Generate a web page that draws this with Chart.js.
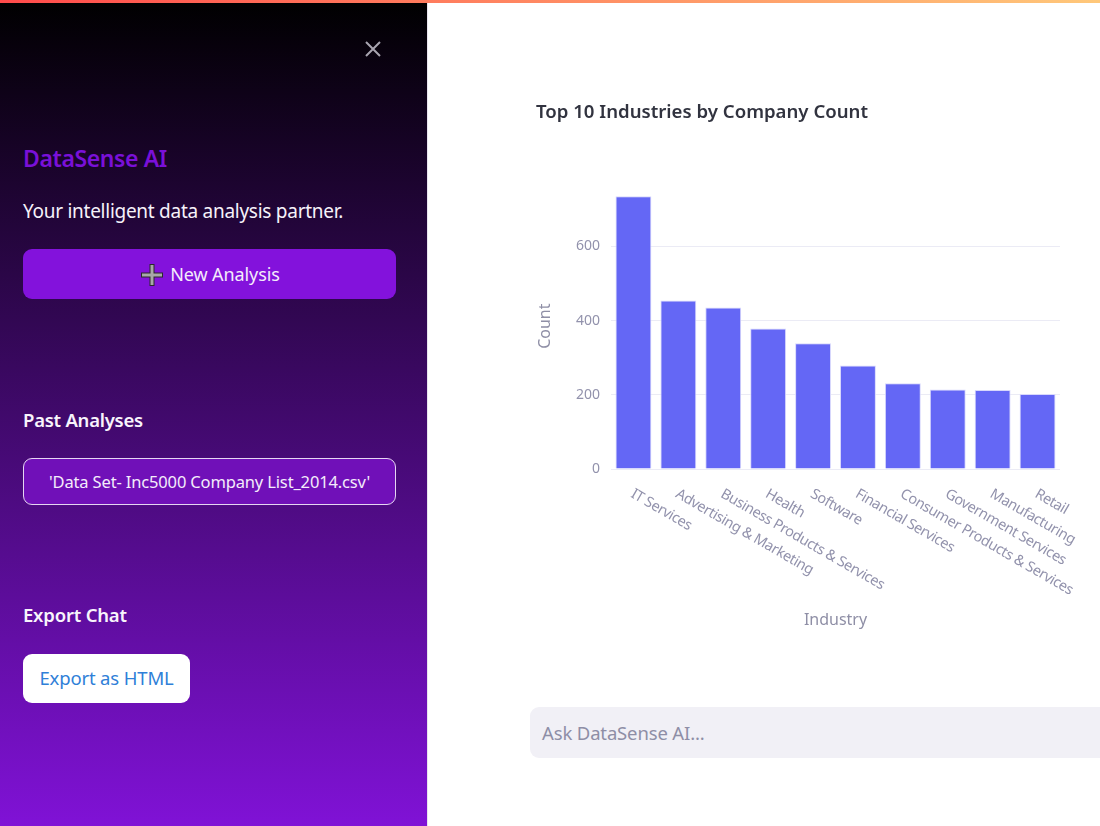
<!DOCTYPE html>
<html lang="en">
<head>
<meta charset="utf-8">
<title>DataSense AI</title>
<script src="https://cdn.jsdelivr.net/npm/chart.js@4/dist/chart.umd.min.js"></script>
<style>
    html, body { margin: 0; padding: 0; width: 1100px; height: 826px; overflow: hidden; background: #fff; }
    body { position: relative; font-family: 'Noto Sans', sans-serif; }
    .abs { position: absolute; white-space: nowrap; }
    #topbar { left: 0; top: 0; width: 1100px; height: 3px; z-index: 5; background: linear-gradient(90deg, #ff4b4b, #ffc87a); }
    #sidebar { left: 0; top: 0; width: 427px; height: 826px; background: linear-gradient(180deg, #000 0%, #8012d6 100%); border-right: 1px solid #e8e4ee; box-sizing: content-box; }
    .btn { box-sizing: border-box; border-radius: 9px; text-align: center; }
    #newBtn { left: 23px; top: 249px; width: 373px; height: 50px; line-height: 50px; background: #8312dc; color: #f4ecfb; font-size: 18px; letter-spacing: -0.1px; }
    #pastBtn { left: 23px; top: 458px; width: 373px; height: 47px; line-height: 45px; background: #7010b8; border: 1px solid #e6d6f2; color: #f4ecfb; font-size: 16.5px; letter-spacing: -0.15px; }
    #exportBtn { left: 23px; top: 654px; width: 167px; height: 49px; line-height: 48px; background: #fff; color: #2f80d8; font-size: 18.5px; letter-spacing: -0.15px; }
    #ask { left: 530px; top: 707px; width: 590px; height: 51px; line-height: 52px; background: #f1f0f6; border-radius: 9px; color: #8e8ea6; font-size: 18.5px; letter-spacing: -0.15px; text-indent: 12px; }
    #chartWrap { left: 536px; top: 96px; width: 564px; height: 540px; }
</style>
</head>
<body>
<div class="abs" id="sidebar"></div>
<div class="abs" id="topbar"></div>
<svg class="abs" style="left:364px;top:40px" width="18" height="18"><path d="M2 2 L16 16 M16 2 L2 16" stroke="#a8a4b0" stroke-width="2"/></svg>
<div class="abs" style="left:23px;top:142px;font-size:23px;font-weight:600;color:#7a10d8;letter-spacing:-0.4px">DataSense AI</div>
<div class="abs" style="left:23px;top:198px;font-size:19px;color:#f6f2fa;letter-spacing:-0.27px">Your intelligent data analysis partner.</div>
<div class="abs btn" id="newBtn"><svg width="26" height="26" style="vertical-align:-7px;margin-right:5px"><path d="M13 2 V24 M2 13 H24" stroke="#2a2a2a" stroke-width="5"/><path d="M13 3 V23 M3 13 H23" stroke="#a8a8a8" stroke-width="3"/></svg>New Analysis</div>
<div class="abs" style="left:23px;top:407px;font-size:18.5px;font-weight:600;color:#f8f4fc;letter-spacing:-0.25px">Past Analyses</div>
<div class="abs btn" id="pastBtn">'Data Set- Inc5000 Company List_2014.csv'</div>
<div class="abs" style="left:23px;top:602px;font-size:18.5px;font-weight:600;color:#f8f4fc;letter-spacing:-0.2px">Export Chat</div>
<div class="abs btn" id="exportBtn">Export as HTML</div>
<div class="abs" id="chartWrap"><canvas id="industryChart" width="564" height="540"></canvas></div>
<div class="abs" id="ask">Ask DataSense AI...</div>

<script>
const chartTitle = 'Top 10 Industries by Company Count';
const xTitle = 'Industry';
const yTitle = 'Count';
const industries = ['IT Services', 'Advertising & Marketing', 'Business Products & Services', 'Health', 'Software',
    'Financial Services', 'Consumer Products & Services', 'Government Services', 'Manufacturing', 'Retail'];
const companyCounts = [735, 454, 435, 379, 339, 279, 231, 214, 213, 202];
const yTickValues = [0, 200, 400, 600];

const labelColor = '#9292ac';
const fontFamily = "'Noto Sans', sans-serif";

// Chart.js only slants bottom labels upward, these run down to the right from the tick
const slantedLabels = {
    id: 'slantedLabels',
    afterDraw(chart) {
        const scale = chart.scales.x;
        const ctx = chart.ctx;
        ctx.save();
        ctx.fillStyle = labelColor;
        ctx.font = '14.5px ' + fontFamily;
        ctx.textAlign = 'left';
        ctx.textBaseline = 'middle';
        industries.forEach((name, i) => {
            ctx.save();
            ctx.translate(scale.getPixelForTick(i) - 1.5, scale.top + 24);
            ctx.rotate(30 * Math.PI / 180);
            ctx.letterSpacing = '-0.4px';
            ctx.fillText(name, 0, 0);
            ctx.restore();
        });
        ctx.restore();
    }
};

new Chart(document.getElementById('industryChart'), {
    type: 'bar',
    data: {
        labels: industries,
        datasets: [{
            data: companyCounts,
            backgroundColor: '#6467f5',
            borderColor: '#d8d8fc',
            borderWidth: 1,
            categoryPercentage: 1,
            barPercentage: 0.8
        }]
    },
    options: {
        responsive: false,
        animation: false,
        layout: { padding: { left: 0, right: 40, top: 0, bottom: 0 } },
        plugins: {
            legend: { display: false },
            tooltip: { enabled: false },
            title: {
                display: true,
                text: chartTitle,
                align: 'start',
                color: '#31333f',
                font: { family: fontFamily, size: 18.6, weight: '600' },
                padding: { top: 6, bottom: 59 }
            }
        },
        scales: {
            x: {
                afterFit(axis) { axis.height = 167; },
                grid: { display: false },
                border: { display: false },
                ticks: { display: false },
                title: {
                    display: true,
                    text: xTitle,
                    color: '#8f8fa6',
                    font: { family: fontFamily, size: 16 },
                    padding: { top: 0, bottom: 6 }
                }
            },
            y: {
                min: 0,
                max: 770,
                afterFit(axis) { axis.width = 75; },
                afterBuildTicks(axis) { axis.ticks = yTickValues.map(v => ({ value: v })); },
                grid: { color: '#ebebf5', drawTicks: false },
                border: { display: false },
                ticks: {
                    color: labelColor,
                    padding: 11,
                    font: { family: fontFamily, size: 14 }
                },
                title: {
                    display: true,
                    text: yTitle,
                    color: '#8f8fa6',
                    font: { family: fontFamily, size: 16 },
                    padding: { top: 0, bottom: 0 }
                }
            }
        }
    },
    plugins: [slantedLabels]
});
</script>
</body>
</html>
